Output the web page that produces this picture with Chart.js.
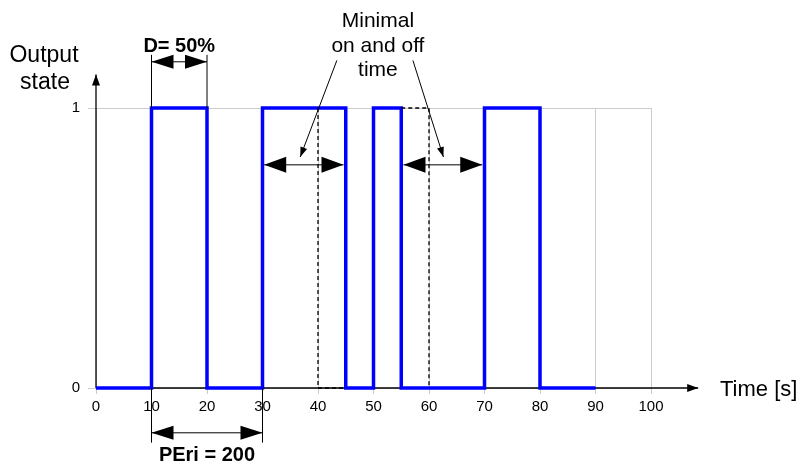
<!DOCTYPE html>
<html>
<head>
<meta charset="utf-8">
<script src="https://cdn.jsdelivr.net/npm/chart.js@4/dist/chart.umd.min.js"></script>
<style>
  html, body { margin: 0; padding: 0; background: #fff; }
</style>
</head>
<body>
<canvas id="chart" width="804" height="464"></canvas>
<script>
// PWM output: switching times and states
const times = [0, 10, 20, 30, 45, 50, 55, 70, 80, 90];
const states = [0, 1, 0, 1, 0, 1, 0, 1, 0, 0];

// dashed "what would have happened" lines
const dashA_t = [40, 40, 45];
const dashA_s = [1, 0, 0];
const dashB_t = [55, 60, 60];
const dashB_s = [1, 1, 0];

const xTicks = [0, 10, 20, 30, 40, 50, 60, 70, 80, 90, 100];
const yTicks = [0, 1];

const FONT = '"Liberation Sans", Arial, sans-serif';

function pts(t, s){ return t.map((v, i) => ({x: v, y: s[i]})); }

function head(ctx, x1, y1, x2, y2, len, hw){
  const a = Math.atan2(y2 - y1, x2 - x1);
  ctx.beginPath();
  ctx.moveTo(x2, y2);
  ctx.lineTo(x2 - len*Math.cos(a) + hw*Math.sin(a), y2 - len*Math.sin(a) - hw*Math.cos(a));
  ctx.lineTo(x2 - len*Math.cos(a) - hw*Math.sin(a), y2 - len*Math.sin(a) + hw*Math.cos(a));
  ctx.closePath();
  ctx.fill();
}

function line(ctx, x1, y1, x2, y2){
  ctx.beginPath();
  ctx.moveTo(x1, y1);
  ctx.lineTo(x2, y2);
  ctx.stroke();
}

function dblArrow(ctx, x1, x2, y, len, hw){
  line(ctx, x1, y, x2, y);
  head(ctx, x2, y, x1, y, len, hw);
  head(ctx, x1, y, x2, y, len, hw);
}

const annot = {
  id: 'annot',
  beforeDatasetsDraw(chart){
    const ctx = chart.ctx;
    const xs = chart.scales.x, ys = chart.scales.y;
    const X = v => xs.getPixelForValue(v);
    const Y = v => ys.getPixelForValue(v);
    ctx.save();
    ctx.strokeStyle = '#000';
    ctx.fillStyle = '#000';
    ctx.lineWidth = 1.3;
    // axes with arrows
    line(ctx, X(0), Y(0), X(108.5), Y(0));
    head(ctx, X(0), Y(0), X(108.5), Y(0), 11, 4);
    line(ctx, X(0), Y(0), X(0), Y(1.12));
    head(ctx, X(0), Y(0), X(0), Y(1.12), 11, 4);
    ctx.restore();
  },
  afterDraw(chart){
    const ctx = chart.ctx;
    const xs = chart.scales.x, ys = chart.scales.y;
    const X = v => xs.getPixelForValue(v);
    const Y = v => ys.getPixelForValue(v);
    ctx.save();
    ctx.strokeStyle = '#000';
    ctx.fillStyle = '#000';
    ctx.lineWidth = 1;
    // D = 50%
    line(ctx, X(10), Y(1), X(10), Y(1.19));
    line(ctx, X(20), Y(1), X(20), Y(1.19));
    dblArrow(ctx, X(10), X(20), Y(1.165), 22, 7);
    // PEri
    line(ctx, X(10), Y(0), X(10), Y(-0.195));
    line(ctx, X(30), Y(0), X(30), Y(-0.195));
    dblArrow(ctx, X(10), X(30), Y(-0.16), 22, 7);
    // minimal on / off
    dblArrow(ctx, X(30.3), X(44.6), Y(0.797), 22, 8);
    dblArrow(ctx, X(55.4), X(69.6), Y(0.797), 22, 8);
    // pointers
    line(ctx, X(43.4), Y(1.17), X(36.8), Y(0.825));
    head(ctx, X(43.4), Y(1.17), X(36.8), Y(0.825), 10, 3.5);
    line(ctx, X(57.1), Y(1.17), X(62.6), Y(0.825));
    head(ctx, X(57.1), Y(1.17), X(62.6), Y(0.825), 10, 3.5);

    // texts
    ctx.textAlign = 'center';
    ctx.textBaseline = 'alphabetic';
    ctx.font = 'bold 20px ' + FONT;
    ctx.fillText('D= 50%', X(15), 52);
    ctx.fillText('PEri = 200', X(20), 461);
    ctx.font = '21px ' + FONT;
    ctx.fillText('Minimal', X(50.8), 27);
    ctx.fillText('on and off', X(50.8), 52);
    ctx.fillText('time', X(50.8), 76);
    ctx.font = '23px ' + FONT;
    ctx.fillText('Output', 44, 62);
    ctx.fillText('state', 45, 89);
    ctx.textAlign = 'left';
    ctx.font = '22px ' + FONT;
    ctx.fillText('Time [s]', 720, 396);
    ctx.restore();
  }
};

new Chart(document.getElementById('chart'), {
  type: 'line',
  data: {
    datasets: [
      {
        data: pts(times, states),
        stepped: 'before',
        borderColor: '#0000ff',
        borderWidth: 3.5,
        pointRadius: 0,
        fill: false,
        clip: false,
        order: 2
      },
      {
        data: pts(dashA_t, dashA_s),
        borderColor: '#000',
        borderWidth: 1.3,
        borderDash: [4, 3],
        pointRadius: 0,
        fill: false,
        clip: false,
        order: 1
      },
      {
        data: pts(dashB_t, dashB_s),
        borderColor: '#000',
        borderWidth: 1.3,
        borderDash: [4, 3],
        pointRadius: 0,
        fill: false,
        clip: false,
        order: 1
      }
    ]
  },
  options: {
    responsive: false,
    animation: false,
    layout: { padding: { left: 0, right: 153, top: 108, bottom: 0 } },
    plugins: { legend: { display: false }, tooltip: { enabled: false } },
    scales: {
      x: {
        type: 'linear',
        min: 0, max: 100,
        afterBuildTicks: s => { s.ticks = xTicks.map(v => ({value: v})); },
        afterFit: s => { s.height = 76; },
        ticks: { color: '#000', font: { family: FONT, size: 15 }, padding: 4, maxRotation: 0 },
        grid: { color: '#cccccc', lineWidth: 1, tickLength: 6, tickColor: '#cccccc' },
        border: { display: false }
      },
      y: {
        type: 'linear',
        min: 0, max: 1,
        afterBuildTicks: s => { s.ticks = yTicks.map(v => ({value: v})); },
        afterFit: s => { s.width = 96; },
        ticks: { color: '#000', font: { family: FONT, size: 15 }, padding: 8 },
        grid: { color: '#cccccc', lineWidth: 1, tickLength: 8, tickColor: '#cccccc' },
        border: { display: false }
      }
    }
  },
  plugins: [annot]
});
</script>
</body>
</html>
